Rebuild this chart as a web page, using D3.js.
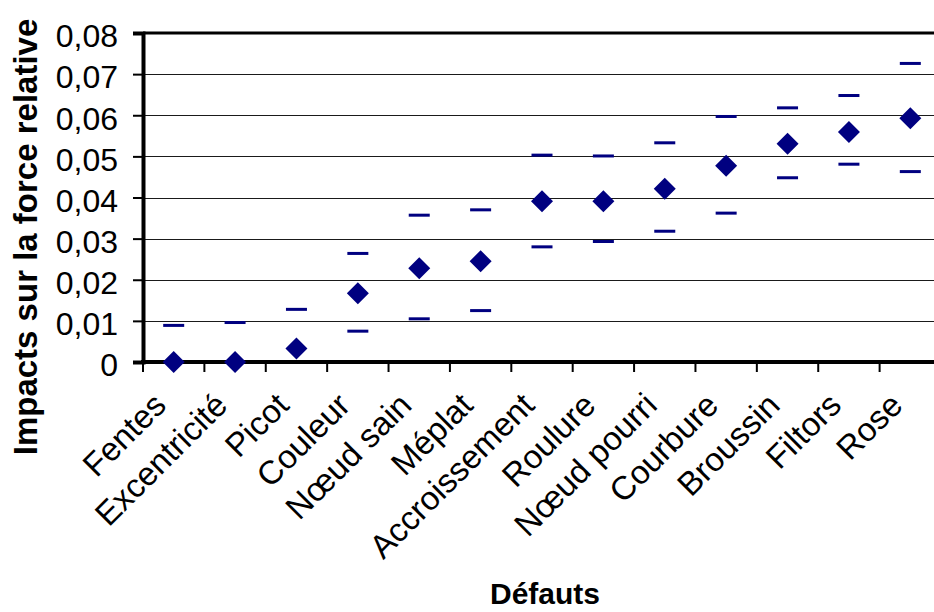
<!DOCTYPE html>
<html>
<head>
<meta charset="utf-8">
<script src="https://cdn.jsdelivr.net/npm/d3@7"></script>
<style>
  html, body { margin: 0; padding: 0; background: #fff; }
  svg { display: block; }
  text { font-family: Arial, "Liberation Sans", sans-serif; fill: #000; }
</style>
</head>
<body>
<svg id="chart" width="934" height="612"></svg>
<script>
// Défauts du bois : impact moyen sur la force relative, avec bornes haute et basse
const categories = ["Fentes", "Excentricité", "Picot", "Couleur", "Nœud sain", "Méplat",
  "Accroissement", "Roulure", "Nœud pourri", "Courbure", "Broussin", "Filtors", "Rose"];
const impact = [0, 0, 0.0033, 0.0167, 0.0228, 0.0245, 0.0391, 0.0391, 0.0421, 0.0477, 0.0531, 0.0559, 0.0593];
const upper  = [0.0089, 0.0096, 0.0128, 0.0264, 0.0357, 0.0370, 0.0503, 0.0501, 0.0533, 0.0597, 0.0618, 0.0648, 0.0726];
const lower  = [null, null, null, 0.0075, 0.0105, 0.0125, 0.0280, 0.0293, 0.0318, 0.0362, 0.0448, 0.0481, 0.0463];
const yTicks = [0, 0.01, 0.02, 0.03, 0.04, 0.05, 0.06, 0.07, 0.08];
const yTitle = "Impacts sur la force relative";
const xTitle = "Défauts";

const svg = d3.select("#chart");
const W = 934, H = 612;
const margin = { top: 33, right: -7, bottom: 250, left: 143 };
const x0 = margin.left, x1 = W - margin.right;
const y0 = H - margin.bottom, y1 = margin.top;

const x = d3.scaleBand().domain(categories).range([x0, x1]).padding(0);
const y = d3.scaleLinear().domain([0, 0.08]).range([y0, y1]);

const fr = d3.formatLocale({ decimal: ",", thousands: " ", grouping: [3], currency: ["", " €"] });
const fmt = v => v === 0 ? "0" : fr.format(".2f")(v);

const navy = "#000080";

// horizontal gridlines
svg.append("g")
  .selectAll("line")
  .data(yTicks.filter(v => v > 0 && v < 0.08))
  .join("line")
  .attr("x1", x0).attr("x2", x1)
  .attr("y1", d => Math.round(y(d)) + 0.5).attr("y2", d => Math.round(y(d)) + 0.5)
  .attr("stroke", "#1a1a1a").attr("stroke-width", 1);

// top frame
svg.append("line")
  .attr("x1", x0).attr("x2", x1)
  .attr("y1", y(0.08)).attr("y2", y(0.08))
  .attr("stroke", "#000").attr("stroke-width", 3);

// y axis
const yAxis = d3.axisLeft(y).tickValues(yTicks).tickFormat(fmt).tickSize(10).tickPadding(15);
const gy = svg.append("g").attr("transform", `translate(${x0},0)`).call(yAxis);
gy.select(".domain").attr("stroke", "#000").attr("stroke-width", 4);
gy.selectAll(".tick line").attr("stroke", "#000").attr("stroke-width", 2);
gy.selectAll(".tick text")
  .style("font-size", "32px")
  .attr("dy", "0.43em")
  .attr("fill", "#000");

// x axis: ticks on category boundaries
const gx = svg.append("g");
gx.append("line")
  .attr("x1", x0 - 2).attr("x2", x1)
  .attr("y1", y0).attr("y2", y0)
  .attr("stroke", "#000").attr("stroke-width", 4);
gx.selectAll("line.tk")
  .data(categories)
  .join("line")
  .attr("class", "tk")
  .attr("x1", d => x(d)).attr("x2", d => x(d))
  .attr("y1", y0).attr("y2", y0 + 10)
  .attr("stroke", "#000").attr("stroke-width", 2);

// rotated category labels
gx.selectAll("text.cat")
  .data(categories)
  .join("text")
  .attr("class", "cat")
  .attr("transform", d => `translate(${x(d) + x.bandwidth() / 2 - 14},${y0 + 37}) rotate(-45)`)
  .attr("text-anchor", "end")
  .attr("dy", "0.35em")
  .style("font-size", "33px")
  .text(d => d);

// error-bound dashes
const half = 10.5;
const rows = categories.map((c, i) => ({ c, v: impact[i], hi: upper[i], lo: lower[i] }));
const bounds = svg.append("g");
rows.forEach(r => {
  [r.hi, r.lo].filter(v => v !== null).forEach(v => {
    bounds.append("rect")
      .attr("x", x(r.c) + x.bandwidth() / 2 - half)
      .attr("y", y(v) - 1.5)
      .attr("width", half * 2)
      .attr("height", 3)
      .attr("fill", navy);
  });
});

// diamonds
const diamond = d3.symbol().type(d3.symbolSquare).size(242);
svg.append("g")
  .selectAll("path")
  .data(rows)
  .join("path")
  .attr("d", diamond)
  .attr("transform", d => `translate(${x(d.c) + x.bandwidth() / 2},${y(d.v)}) rotate(45)`)
  .attr("fill", navy);

// axis titles
svg.append("text")
  .attr("transform", `translate(37,${237}) rotate(-90)`)
  .attr("text-anchor", "middle")
  .style("font-size", "33px")
  .style("font-weight", "bold")
  .text(yTitle);

svg.append("text")
  .attr("x", 545)
  .attr("y", 604)
  .attr("text-anchor", "middle")
  .style("font-size", "30px")
  .style("font-weight", "bold")
  .text(xTitle);
</script>
</body>
</html>
